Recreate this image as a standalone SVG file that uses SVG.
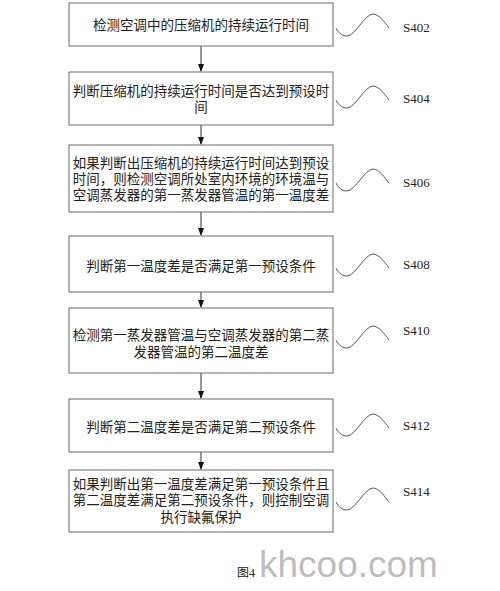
<svg xmlns="http://www.w3.org/2000/svg" width="500" height="591" viewBox="0 0 500 591">
<style>
.box{fill:#fff;stroke:#6a6a6a;stroke-width:1}
.t{font-family:"Liberation Serif","Noto Sans CJK SC",serif;font-size:13.5px;fill:#222;text-anchor:middle}
.lbl{font-family:"Liberation Serif",serif;font-size:13px;fill:#222}
.sq{fill:none;stroke:#444;stroke-width:0.9}
.ar{stroke:#333;stroke-width:1;fill:none}
</style>
<defs>
<marker id="ah" markerWidth="8" markerHeight="10" refX="7" refY="3" orient="auto" markerUnits="userSpaceOnUse" viewBox="0 0 8 6">
<path d="M0,0 L8,3 L0,6 Z" fill="#111"/>
</marker>
<path id="sq" class="sq" d="M0,0 C3,6 7,8 11,8 C19,8 29,-14 37,-14 C43,-14 49,-5 53,0"/>
</defs>
<rect width="500" height="591" fill="#fff"/>
<g id="connectors">
<line class="ar" x1="201" y1="46" x2="201" y2="71" marker-end="url(#ah)"/>
<line class="ar" x1="201" y1="125" x2="201" y2="144" marker-end="url(#ah)"/>
<line class="ar" x1="201" y1="212" x2="201" y2="235" marker-end="url(#ah)"/>
<line class="ar" x1="201" y1="292" x2="201" y2="307" marker-end="url(#ah)"/>
<line class="ar" x1="201" y1="373" x2="201" y2="398" marker-end="url(#ah)"/>
<line class="ar" x1="201" y1="452" x2="201" y2="469" marker-end="url(#ah)"/>
</g>
<g id="s402">
<rect class="box" x="69" y="3" width="264" height="43"/>
<text class="t" x="201" y="30">检测空调中的压缩机的持续运行时间</text>
<use href="#sq" x="336" y="28"/>
<text class="lbl" x="403" y="32">S402</text>
</g>
<g id="s404">
<rect class="box" x="69" y="72" width="264" height="53"/>
<text class="t" x="201" y="96">判断压缩机的持续运行时间是否达到预设时</text>
<text class="t" x="201" y="112">间</text>
<use href="#sq" x="336" y="100"/>
<text class="lbl" x="403" y="103">S404</text>
</g>
<g id="s406">
<rect class="box" x="69" y="145" width="264" height="67"/>
<text class="t" x="201" y="168">如果判断出压缩机的持续运行时间达到预设</text>
<text class="t" x="201" y="184">时间，则检测空调所处室内环境的环境温与</text>
<text class="t" x="201" y="200">空调蒸发器的第一蒸发器管温的第一温度差</text>
<use href="#sq" x="336" y="183"/>
<text class="lbl" x="403" y="187">S406</text>
</g>
<g id="s408">
<rect class="box" x="69" y="236" width="264" height="56"/>
<text class="t" x="201" y="271">判断第一温度差是否满足第一预设条件</text>
<use href="#sq" x="336" y="268"/>
<text class="lbl" x="403" y="269">S408</text>
</g>
<g id="s410">
<rect class="box" x="69" y="308" width="264" height="65"/>
<text class="t" x="201" y="340">检测第一蒸发器管温与空调蒸发器的第二蒸</text>
<text class="t" x="201" y="357">发器管温的第二温度差</text>
<use href="#sq" x="336" y="340"/>
<text class="lbl" x="403" y="335">S410</text>
</g>
<g id="s412">
<rect class="box" x="69" y="399" width="264" height="53"/>
<text class="t" x="201" y="432">判断第二温度差是否满足第二预设条件</text>
<use href="#sq" x="336" y="428"/>
<text class="lbl" x="403" y="430">S412</text>
</g>
<g id="s414">
<rect class="box" x="69" y="470" width="264" height="62"/>
<text class="t" x="201" y="489">如果判断出第一温度差满足第一预设条件且</text>
<text class="t" x="201" y="505">第二温度差满足第二预设条件，则控制空调</text>
<text class="t" x="201" y="522">执行缺氟保护</text>
<use href="#sq" x="336" y="502"/>
<text class="lbl" x="403" y="496">S414</text>
</g>
<text x="237" y="577" style="font-family:'Liberation Serif','Noto Sans CJK SC',serif;font-size:12px;fill:#222">图4</text>
<text x="259" y="577" style="font-family:'Liberation Sans',sans-serif;font-size:37px;fill:#b4b4b4;fill-opacity:0.9">khcoo.com</text>
</svg>
